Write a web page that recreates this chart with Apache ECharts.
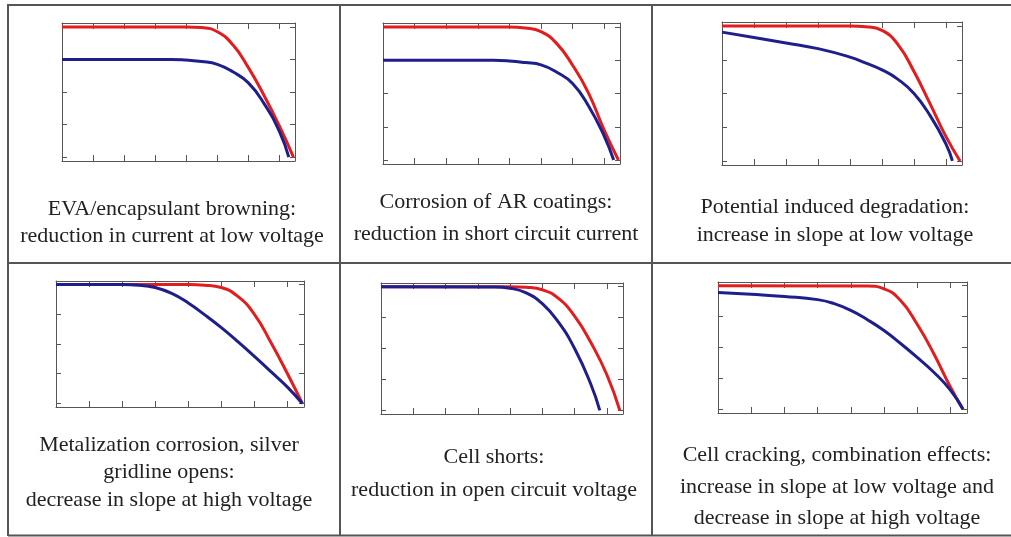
<!DOCTYPE html>
<html>
<head>
<meta charset="utf-8">
<script src="https://cdn.jsdelivr.net/npm/echarts@6/dist/echarts.min.js"></script>
<style>
html,body{margin:0;padding:0;background:#fff;}
#chart{width:1011px;height:537px;}
</style>
</head>
<body>
<div id="chart"></div>
<script>
// ---- data ----
const xTicks = [0, 1, 2, 3, 4, 5, 6, 7];
const yTicks = [0, 1, 2, 3, 4];

const captions = [
  ["EVA/encapsulant browning:", "reduction in current at low voltage"],
  ["Corrosion of AR coatings:", "reduction in short circuit current"],
  ["Potential induced degradation:", "increase in slope at low voltage"],
  ["Metalization corrosion, silver", "gridline opens:", "decrease in slope at high voltage"],
  ["Cell shorts:", "reduction in open circuit voltage"],
  ["Cell cracking, combination effects:", "increase in slope at low voltage and", "decrease in slope at high voltage"]
];

const p1Red  = [[0,4],[4,4],[4.5,3.98],[5,3.85],[5.5,3.45],[6,2.75],[6.5,1.9],[7,0.95],[7.45,0]];
const p1Blue = [[0,3],[3.5,3],[4,2.98],[4.5,2.94],[5,2.85],[5.5,2.62],[6,2.28],[6.5,1.65],[7,0.78],[7.3,0]];
const p2Red  = [[0,4],[4,4],[4.5,3.97],[5,3.86],[5.5,3.5],[6,2.85],[6.5,2.02],[7,0.9],[7.45,0]];
const p2Blue = [[0,3],[3.5,3],[4,2.98],[4.5,2.93],[5,2.86],[5.5,2.64],[6,2.3],[6.5,1.63],[7,0.72],[7.3,0]];
const p3Red  = [[0,4],[4,4],[4.5,3.98],[5,3.87],[5.5,3.45],[6,2.65],[6.5,1.7],[7,0.72],[7.44,0]];
const p3Blue = [[0,3.82],[1,3.66],[2,3.5],[3,3.33],[4,3.08],[4.5,2.9],[5,2.7],[5.5,2.42],[6,2.0],[6.5,1.35],[7,0.5],[7.2,0]];
const p4Red  = [[0,4],[4,4],[4.5,3.98],[5,3.9],[5.5,3.6],[6,3.0],[6.5,2.05],[7,1.0],[7.45,0]];
const p4Blue = [[0,4],[2,4],[2.5,3.98],[3,3.9],[3.5,3.7],[4,3.38],[4.5,2.98],[5,2.55],[5.5,2.08],[6,1.58],[6.5,1.07],[7,0.55],[7.45,0]];
const p5Red  = [[0,4],[4,4],[4.5,3.98],[5,3.9],[5.5,3.62],[6,3.05],[6.5,2.2],[7,1.15],[7.4,0]];
const p5Blue = [[0,4],[3.5,3.99],[4,3.95],[4.5,3.8],[5,3.45],[5.5,2.85],[6,2.0],[6.5,0.85],[6.78,0]];
const p6Red  = [[0,4],[4.5,3.99],[5,3.9],[5.5,3.52],[6,2.75],[6.5,1.8],[7,0.72],[7.38,0]];
const p6Blue = [[0,3.78],[1,3.72],[2,3.65],[3,3.55],[3.5,3.42],[4,3.2],[4.5,2.9],[5,2.55],[5.5,2.13],[6,1.68],[6.5,1.2],[7,0.62],[7.38,0]];

const redSeries  = [p1Red, p2Red, p3Red, p4Red, p5Red, p6Red];
const blueSeries = [p1Blue, p2Blue, p3Blue, p4Blue, p5Blue, p6Blue];

// ---- layout ----
const grids = [
  {left: 62,  top: 23,  width: 233, height: 138},
  {left: 383, top: 23,  width: 237, height: 141},
  {left: 722, top: 22,  width: 240, height: 143},
  {left: 56,  top: 281, width: 248, height: 126},
  {left: 381, top: 283, width: 242, height: 131},
  {left: 718, top: 282, width: 249, height: 131}
];
const captionPos = [
  {x: 172, ys: [209, 236]},
  {x: 496, ys: [202, 234]},
  {x: 835, ys: [207, 235]},
  {x: 169, ys: [445, 472, 500]},
  {x: 494, ys: [457, 490]},
  {x: 837, ys: [455, 487, 518]}
];

const frameColor = '#555';
const red = '#e31d1d';
const blue = '#1f1f8c';

const xAxes = [], yAxes = [], series = [];
grids.forEach((g, i) => {
  ['bottom', 'top'].forEach(pos => {
    xAxes.push({
      type: 'value', gridIndex: i, position: pos, min: 0, max: 7.5, interval: 1,
      axisLine: {show: true, onZero: false, lineStyle: {color: frameColor, width: 1}},
      axisTick: {show: true, inside: true, length: 6, customValues: xTicks, lineStyle: {color: frameColor, width: 1}},
      axisLabel: {show: false},
      splitLine: {show: false}
    });
  });
  ['left', 'right'].forEach(pos => {
    yAxes.push({
      type: 'value', gridIndex: i, position: pos, min: -0.12, max: 4.12,
      axisLine: {show: true, onZero: false, lineStyle: {color: frameColor, width: 1}},
      axisTick: {show: true, inside: true, length: 5, customValues: yTicks, lineStyle: {color: frameColor, width: 1}},
      axisLabel: {show: false},
      splitLine: {show: false}
    });
  });
  [[redSeries[i], red], [blueSeries[i], blue]].forEach(([d, c]) => {
    series.push({
      type: 'line', xAxisIndex: 2 * i, yAxisIndex: 2 * i, data: d,
      showSymbol: false, smooth: 0.5,
      lineStyle: {color: c, width: 3}, silent: true
    });
  });
});

const graphics = [];
const border = '#555';
// table lines
[
  [8, 5, 1011, 5],
  [8, 263, 1011, 263],
  [8, 535.5, 1011, 535.5],
  [8, 4, 8, 536],
  [340, 4, 340, 536],
  [652, 4, 652, 536]
].forEach(([x1, y1, x2, y2]) => {
  graphics.push({type: 'line', shape: {x1, y1, x2, y2}, style: {stroke: border, lineWidth: 2}, silent: true});
});
captions.forEach((lines, i) => {
  lines.forEach((t, j) => {
    graphics.push({
      type: 'text', x: captionPos[i].x, y: captionPos[i].ys[j],
      style: {text: t, font: '22px "Liberation Serif", "Times New Roman", serif', fill: '#222', textAlign: 'center', textVerticalAlign: 'middle'},
      silent: true
    });
  });
});

const chart = echarts.init(document.getElementById('chart'), null, {renderer: 'canvas'});
chart.setOption({
  animation: false,
  backgroundColor: '#fff',
  grid: grids.map(g => Object.assign({containLabel: false}, g)),
  xAxis: xAxes,
  yAxis: yAxes,
  series: series,
  graphic: graphics
});
</script>
</body>
</html>
